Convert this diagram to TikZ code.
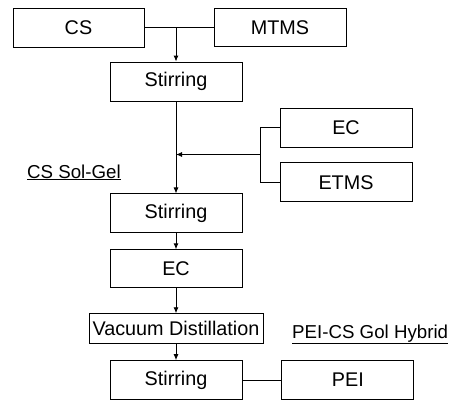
\documentclass[tikz,border=0pt]{standalone}
\usepackage{fontspec}
\setmainfont{Liberation Sans}
\usepackage{tikz}
\usetikzlibrary{arrows.meta,positioning,calc}
\tikzset{
    block/.style={
        rectangle,
        draw,
        line width=0.9pt,
        align=center,
        minimum width=132pt,
        minimum height=39pt,
        inner sep=1pt,
        font=\fontsize{19.8}{22}\selectfont
    },
    flow/.style={line width=0.9pt},
    arrow/.style={flow, -{Latex[length=6pt,width=5pt]}},
    tag/.style={font=\fontsize{18.7}{22}\selectfont, inner sep=0pt}
}
\begin{document}
\begin{tikzpicture}[x=1pt, y=-1pt, node distance=16pt and 38pt]
    \useasboundingbox (0,0) rectangle (462,412);
    \node (cs) [block, minimum width=131pt] at (78.5,27.5) {CS};
    \node (mtms) [block, minimum height=38pt] at (280,27.5) {MTMS};
    \node (stir1) [block] at (176,81.5) {Stirring};
    \node (ec2) [block] at (346,127.5) {EC};
    \node (etms) [block, below=15pt of ec2] {ETMS};
    \node (stir2) [block, below=92pt of stir1] {Stirring};
    \node (ec) [block, below=of stir2, minimum height=38pt] {EC};
    \node (vac) [block, below=25pt of ec, minimum width=174pt, minimum height=30pt] {Vacuum Distillation};
    \node (stir3) [block, below=of vac] {Stirring};
    \node (pei) [block, right=39pt of stir3] {PEI};
    \node (solgel) [tag, anchor=base west] at (27,178) {\underline{CS Sol-Gel}};
    \node (hybrid) [tag, anchor=base west] at (292,338) {\underline{PEI-CS Gol Hybrid}};
    \coordinate (join) at ($(ec2.west)+(-19,27)$);

    \draw [flow] (cs.east) -- (mtms.west);
    \draw [arrow] (cs.east -| stir1.north) -- (stir1.north);
    \draw [flow] (ec2.west) -- ++(-19,0) |- (etms.west);
    \draw [arrow] (join) -- (join -| stir1.south);
    \draw [arrow] (stir1.south) -- (stir2.north);
    \draw [arrow] (stir2) -- (ec);
    \draw [arrow] (ec) -- (vac);
    \draw [arrow] (vac) -- (stir3);
    \draw [flow] (stir3) -- (pei);
\end{tikzpicture}
\end{document}
